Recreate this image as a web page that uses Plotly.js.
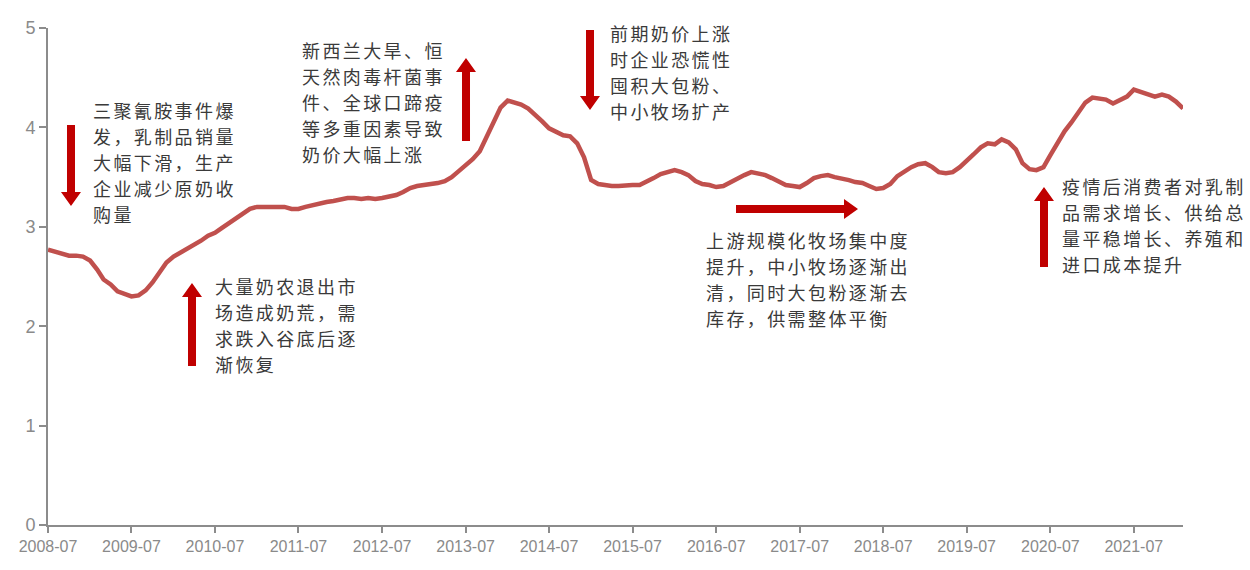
<!DOCTYPE html>
<html>
<head>
<meta charset="utf-8">
<script src="https://cdn.plot.ly/plotly-3.0.1.min.js"></script>
<style>html,body{margin:0;padding:0;background:#fff;}#chart{width:1250px;height:570px;}</style>
</head>
<body>
<div id="chart"></div>
<script>
// Raw milk price (monthly), 2008-07 .. 2022-02
const startMonth = "2008-07";
const priceValues = [
  2.77,2.75,2.73,2.71,2.71,2.70,2.66,2.57,2.47,2.42,2.35,2.32,
  2.30,2.31,2.36,2.44,2.55,2.64,2.70,2.74,2.78,2.82,2.86,2.91,
  2.94,2.99,3.04,3.08,3.14,3.18,3.20,3.20,3.20,3.19,3.20,3.18,
  3.18,3.20,3.22,3.23,3.25,3.26,3.28,3.29,3.29,3.28,3.29,3.28,
  3.29,3.30,3.32,3.35,3.39,3.41,3.42,3.42,3.44,3.46,3.50,3.56,
  3.62,3.68,3.76,3.90,4.05,4.20,4.27,4.25,4.23,4.19,4.13,4.06,
  3.99,3.95,3.92,3.91,3.84,3.70,3.47,3.43,3.42,3.41,3.41,3.42,
  3.42,3.42,3.45,3.49,3.53,3.55,3.57,3.55,3.52,3.46,3.43,3.42,
  3.40,3.41,3.45,3.48,3.52,3.55,3.54,3.52,3.49,3.45,3.42,3.41,
  3.40,3.44,3.49,3.51,3.52,3.50,3.49,3.47,3.45,3.44,3.41,3.38,
  3.39,3.43,3.51,3.56,3.60,3.63,3.64,3.60,3.55,3.54,3.55,3.60,
  3.66,3.73,3.80,3.84,3.83,3.88,3.85,3.78,3.64,3.58,3.57,3.60,
  3.72,3.85,3.96,4.05,4.16,4.25,4.30,4.29,4.28,4.24,4.27,4.31,
  4.38,4.36,4.33,4.31,4.33,4.31,4.26,4.19
];
const xTickFormat = "%Y-%m";
const yTickValues = [0,1,2,3,4,5];

const notes = [
  ["三聚氰胺事件爆", "发，乳制品销量", "大幅下滑，生产", "企业减少原奶收", "购量"],
  ["大量奶农退出市", "场造成奶荒，需", "求跌入谷底后逐", "渐恢复"],
  ["新西兰大旱、恒", "天然肉毒杆菌事", "件、全球口蹄疫", "等多重因素导致", "奶价大幅上涨"],
  ["前期奶价上涨", "时企业恐慌性", "囤积大包粉、", "中小牧场扩产"],
  ["上游规模化牧场集中度", "提升，中小牧场逐渐出", "清，同时大包粉逐渐去", "库存，供需整体平衡"],
  ["疫情后消费者对乳制", "品需求增长、供给总", "量平稳增长、养殖和", "进口成本提升"]
];

// build month dates
const dates = [];
{
  let [y, m] = startMonth.split("-").map(Number);
  for (let i = 0; i < priceValues.length; i++) {
    dates.push(y + "-" + String(m).padStart(2, "0") + "-01");
    m++; if (m > 12) { m = 1; y++; }
  }
}

const W = 1250, H = 570;
const M = {l: 48, r: 67, t: 28, b: 45};
const PW = W - M.l - M.r, PH = H - M.t - M.b;
const px = x => (x - M.l) / PW;
const py = y => (H - M.b - y) / PH;

const RED = "#C00000";
function vArrow(cx, yTail, yTip) {
  const dir = yTip > yTail ? 1 : -1; // 1 = down
  const sw = 4, hw = 10, hl = 14;
  const yb = yTip - dir * hl;
  const pts = [
    [cx - sw, yTail], [cx + sw, yTail], [cx + sw, yb], [cx + hw, yb],
    [cx, yTip], [cx - hw, yb], [cx - sw, yb]
  ];
  return {type: "path", xref: "paper", yref: "paper", fillcolor: RED, line: {width: 0},
    path: "M" + pts.map(p => px(p[0]).toFixed(5) + "," + py(p[1]).toFixed(5)).join("L") + "Z"};
}
function hArrow(cy, xTail, xTip) {
  const sw = 4, hw = 10, hl = 14;
  const xb = xTip - hl;
  const pts = [
    [xTail, cy - sw], [xTail, cy + sw], [xb, cy + sw], [xb, cy + hw],
    [xTip, cy], [xb, cy - hw], [xb, cy - sw]
  ];
  return {type: "path", xref: "paper", yref: "paper", fillcolor: RED, line: {width: 0},
    path: "M" + pts.map(p => px(p[0]).toFixed(5) + "," + py(p[1]).toFixed(5)).join("L") + "Z"};
}

const noteFont = {family: "Noto Sans CJK SC", size: 18, color: "#3a3a3a"};
const PITCH = 26;
function noteLines(lines, x, yFirst) {
  return lines.map((t, i) => ({
    text: '<span style="letter-spacing:2.4px">' + t + '</span>',
    xref: "paper", yref: "paper", x: px(x), y: py(yFirst + i * PITCH),
    xanchor: "left", yanchor: "middle", align: "left", showarrow: false,
    borderpad: 0, font: noteFont
  }));
}

const trace = {
  x: dates, y: priceValues, type: "scatter", mode: "lines",
  line: {color: "#C0504D", width: 4.5}, hoverinfo: "skip"
};

const axisColor = "#8c8c8c";
const layout = {
  width: W, height: H, margin: M,
  paper_bgcolor: "#fff", plot_bgcolor: "#fff", showlegend: false,
  font: {family: "Liberation Sans, Arial, sans-serif", color: "#8a8a8a", size: 16},
  xaxis: {
    type: "date", range: [dates[0], dates[dates.length - 1]],
    tick0: dates[0], dtick: "M12", tickformat: xTickFormat,
    showgrid: false, zeroline: false, showline: true, linecolor: axisColor, linewidth: 2,
    ticks: "outside", ticklen: 6, tickwidth: 2, tickcolor: axisColor,
    tickfont: {size: 16, color: "#8a8a8a"}
  },
  yaxis: {
    range: [0, 5], tickvals: yTickValues, showgrid: false, zeroline: false,
    showline: true, linecolor: axisColor, linewidth: 2,
    ticks: "outside", ticklen: 7, tickwidth: 2, tickcolor: axisColor,
    tickfont: {size: 18, color: "#8a8a8a"}
  },
  shapes: [
    vArrow(71, 125, 206),
    vArrow(192, 366, 283),
    vArrow(466, 141, 58),
    vArrow(590, 30, 110),
    hArrow(209, 736, 858),
    vArrow(1044, 267, 187)
  ],
  annotations: [].concat(
    noteLines(notes[0], 92, 110),
    noteLines(notes[1], 214, 286),
    noteLines(notes[2], 301, 50),
    noteLines(notes[3], 609, 33),
    noteLines(notes[4], 705, 240),
    noteLines(notes[5], 1061, 186)
  )
};

Plotly.newPlot("chart", [trace], layout, {staticPlot: true, displayModeBar: false});
</script>
</body>
</html>
